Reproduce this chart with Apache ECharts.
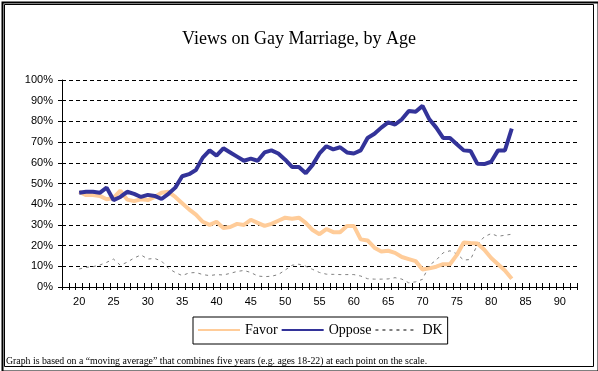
<!DOCTYPE html>
<html>
<head>
<meta charset="utf-8">
<script src="https://cdn.jsdelivr.net/npm/echarts@6/dist/echarts.min.js"></script>
<style>
html,body{margin:0;padding:0;background:#fff;}
#c{width:598px;height:371px;}
</style>
</head>
<body>
<div id="c"></div>
<script>
// Category axis (ages) and tick labels
var categories = ['18','19','20','21','22','23','24','25','26','27','28','29','30','31','32','33','34','35','36','37','38','39','40','41','42','43','44','45','46','47','48','49','50','51','52','53','54','55','56','57','58','59','60','61','62','63','64','65','66','67','68','69','70','71','72','73','74','75','76','77','78','79','80','81','82','83','84','85','86','87','88','89','90','91','92'];
var labeledAges = ['20','25','30','35','40','45','50','55','60','65','70','75','80','85','90'];
var yTicks = [0,10,20,30,40,50,60,70,80,90,100];

// Ages that carry data
var dataAges = ['20','21','22','23','24','25','26','27','28','29','30','31','32','33','34','35','36','37','38','39','40','41','42','43','44','45','46','47','48','49','50','51','52','53','54','55','56','57','58','59','60','61','62','63','64','65','66','67','68','69','70','71','72','73','74','75','76','77','78','79','80','81','82','83'];

var favor = [46,44.4,44.4,44,42.4,43,46.5,42.2,41.5,42.4,42,43.5,45.5,46,43.5,40.5,37.5,35,31.5,30,31.5,28.5,29,30.5,30,32.5,31,29.5,30.5,32,33.5,33,33.5,31,27.5,25.5,28,26.5,26.5,29.5,29.5,23,22.5,19,17.2,17.5,16.5,14.5,13.5,12.5,8.5,9,9.8,11,11,15.5,21.5,21.2,21,18,14,11,8,4];

var oppose = [45.5,46,46,45.5,48,42,43.5,46,45,43.5,44.5,44,42.5,45,48,53.5,54.5,56.5,62.5,66,63.5,67,65,63,61,62,61,65,66,64.5,61.5,58,58,55,59,64.5,68,66.5,67.5,65,64.5,66,72,74,77,79.5,78.5,81,85,84.7,87.5,81,77,72,72,69,66,65.7,59.5,59.4,60.5,66,66,76.5];

var dk = [8.7,9.5,9.8,10.6,11.9,13.5,10.5,12,14,15.5,13.5,13.8,12.5,9,7,5.5,6.8,7,6,5.5,6,5.8,6.6,7.5,8,7,5.3,5,5.2,6,8.2,10.5,11,10,8.5,7,6.2,6.1,6,6,6,5.3,4,3.8,3.8,3.9,4.5,3.8,2,2.5,3.7,10.5,13,16.5,17.5,16,13,13.3,20.5,24.3,25.8,24.5,25,25.5];

function pairs(vals){ return dataAges.map(function(a,i){ return [a, vals[i]]; }); }

var chart = echarts.init(document.getElementById('c'), null, {renderer:'canvas'});
var serif = '"Liberation Serif","Times New Roman",serif';
var sans = '"Liberation Sans",Arial,sans-serif';

var option = {
  animation:false,
  backgroundColor:'#fff',
  title:{
    text:'Views on Gay Marriage, by Age',
    left:'center', top:25,
    textStyle:{fontFamily:serif,fontSize:18,fontWeight:'normal',color:'#000'}
  },
  grid:{left:62,right:21,top:80,bottom:84,containLabel:false},
  legend:{
    left:193, top:317,
    orient:'horizontal',
    itemWidth:42, itemHeight:14, itemGap:3,
    padding:[6,5,7,4],
    borderColor:'#000', borderWidth:1,
    itemStyle:{color:'rgba(0,0,0,0)',borderWidth:0,opacity:0},
    textStyle:{fontFamily:serif,fontSize:14,color:'#000'},
    data:['Favor','Oppose','DK']
  },
  xAxis:[{
    type:'category', data:categories, boundaryGap:true,
    axisLine:{lineStyle:{color:'#000',width:1}},
    axisTick:{show:true,interval:0,length:3,lineStyle:{color:'#000'}},
    axisLabel:{interval:function(i,v){return labeledAges.indexOf(v)>=0;},fontFamily:sans,fontSize:11,color:'#000',margin:9},
    splitLine:{show:false}
  },{
    type:'category', data:categories, boundaryGap:true, position:'bottom',
    axisLine:{show:false},
    axisTick:{show:true,inside:true,interval:0,length:4,lineStyle:{color:'#000'}},
    axisLabel:{show:false}, splitLine:{show:false}
  }],
  yAxis:[{
    type:'value', min:yTicks[0], max:yTicks[yTicks.length-1], interval:10,
    axisLine:{show:true,lineStyle:{color:'#000',width:1}},
    axisTick:{show:true,length:4,lineStyle:{color:'#000'}},
    axisLabel:{formatter:'{value}%',fontFamily:sans,fontSize:11,color:'#000',margin:9},
    splitLine:{show:true,lineStyle:{color:'#000',type:[4,3],width:1}}
  },{
    type:'value', min:yTicks[0], max:yTicks[yTicks.length-1], interval:10, position:'left',
    axisLine:{show:false},
    axisTick:{show:true,inside:true,length:4,lineStyle:{color:'#000'}},
    axisLabel:{show:false}, splitLine:{show:false}
  }],
  series:[{
    name:'Favor', type:'line', data:pairs(favor), symbol:'none',
    lineStyle:{color:'#FFCC99',width:4}, itemStyle:{color:'#FFCC99'}, z:3
  },{
    name:'Oppose', type:'line', data:pairs(oppose), symbol:'none',
    lineStyle:{color:'#333399',width:4}, itemStyle:{color:'#333399'}, z:4
  },{
    name:'DK', type:'line', data:pairs(dk), symbol:'none',
    lineStyle:{color:'#808080',width:1,type:[3,4]}, itemStyle:{color:'#808080'}, z:2
  }],
  graphic:[
    {type:'rect',left:0,top:0,shape:{x:1,y:1,width:596,height:369},style:{fill:null,stroke:'#000',lineWidth:2},silent:true},
    {type:'rect',shape:{x:4.5,y:4.5,width:589,height:362},style:{fill:null,stroke:'#000',lineWidth:1},silent:true},
    {type:'text',left:6,top:356,style:{text:'Graph is based on a \u201cmoving average\u201d that combines five years (e.g. ages 18-22) at each point on the scale.',font:'9.8px '+serif,fill:'#000'}}
  ]
};
chart.setOption(option);
</script>
</body>
</html>
